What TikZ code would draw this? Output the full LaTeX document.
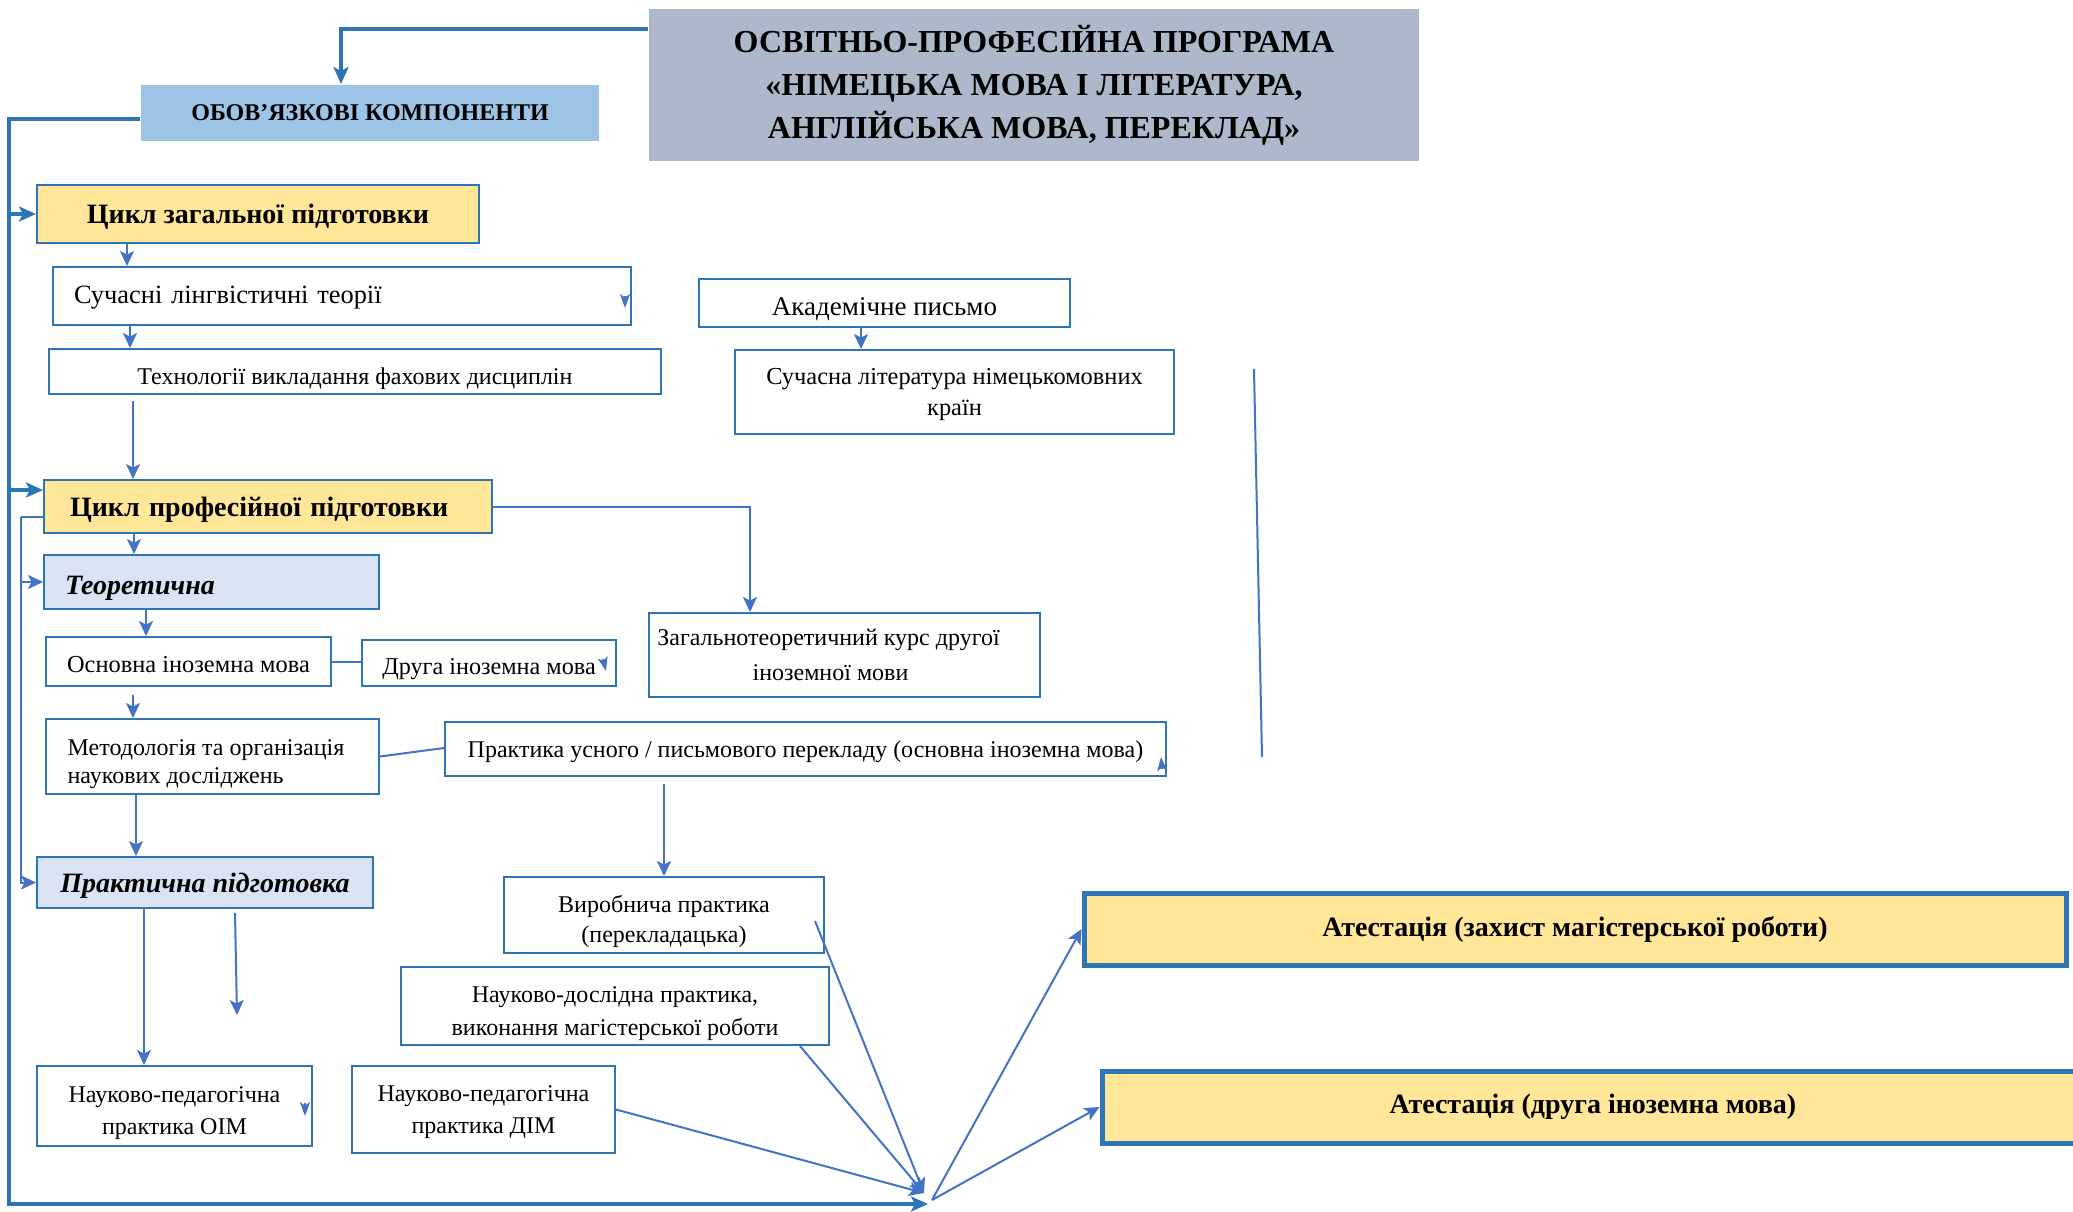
\documentclass[tikz,border=0pt]{standalone}
\usepackage{fontspec}
\setmainfont{Liberation Serif}
\usetikzlibrary{arrows.meta,calc}
\definecolor{thinc}{RGB}{68,114,196}
\definecolor{thickc}{RGB}{46,117,182}
\definecolor{yel}{RGB}{255,230,153}
\definecolor{lblue}{RGB}{218,227,243}
\definecolor{obov}{RGB}{157,195,230}
\definecolor{grayb}{RGB}{173,185,202}
\newcommand\fsz[2]{\fontsize{#1}{#2}\selectfont}
\newcommand\tstrut[1]{\rule{0pt}{#1}}
\begin{document}
\begin{tikzpicture}[x=0.5pt,y=-0.5pt,
  box/.style={draw=thickc, line width=1pt, fill=white, inner sep=0pt, align=center, text=black, text depth=0pt},
  arr/.style={draw=thinc, line width=1pt, -{Stealth[length=7.5pt,width=7pt,inset=1.8pt]}},
  sarr/.style={draw=thinc, line width=1pt, -{Stealth[length=7pt,width=5pt,inset=1.8pt]}},
  tarr/.style={draw=thickc, line width=2.3pt, -{Stealth[length=8.5pt,width=7.5pt,inset=2pt]}},
  thinline/.style={draw=thinc, line width=1pt},
  thickline/.style={draw=thickc, line width=2.3pt}
]
\fill[white] (0,0) rectangle (2073,1211);
\useasboundingbox (0,0) rectangle (2073,1211);

% nodes
\node[box, text depth=, fill=grayb, draw=none, minimum width=385pt, minimum height=76pt, font=\bfseries\fsz{16}{21.5}] (title) at (1034,85) {ОСВІТНЬО-ПРОФЕСІЙНА ПРОГРАМА\\«НІМЕЦЬКА МОВА І ЛІТЕРАТУРА,\\АНГЛІЙСЬКА МОВА, ПЕРЕКЛАД»};
\node[box, fill=obov, draw=none, minimum width=229pt, minimum height=28pt, font=\bfseries\fsz{12}{14}] (obov) at (370,113) {ОБОВ’ЯЗКОВІ КОМПОНЕНТИ};
\node[box, fill=yel, minimum width=221pt, minimum height=29pt, font=\bfseries\fsz{14}{17}] (cykl1) at (258,214) {Цикл загальної підготовки};
\node[box, text depth=1pt, minimum height=29pt, text width=268pt, inner xsep=10.5pt, align=left, font=\fsz{13.2}{16}] (such) at (342,296) {Сучасні лінгвістичні теорії};
\node[box, minimum width=306pt, minimum height=22.5pt, font=\fsz{12}{15}] (tech) at (355,371.5) {\tstrut{12.5pt}Технології викладання фахових дисциплін};
\node[box, minimum width=185.5pt, minimum height=24pt, font=\fsz{13.5}{16}] (akad) at (884.5,303) {\tstrut{12.5pt}Академічне письмо};
\node[box, minimum width=219.5pt, minimum height=42pt, font=\fsz{12.2}{15.5}] (lit) at (954.5,392) {Сучасна література німецькомовних\\країн};
\node[box, text depth=-1pt, fill=yel, minimum height=26.5pt, text width=198pt, inner xsep=13pt, align=left, font=\bfseries\fsz{14}{17}] (cykl2) at (268,506.5) {Цикл професійної підготовки};
\node[box, fill=lblue, minimum height=27pt, text width=146.5pt, inner xsep=10.5pt, align=left, font=\bfseries\itshape\fsz{14}{17}] (teor) at (211.5,582) {\tstrut{12.5pt}Теоретична};
\node[box, minimum width=142.5pt, minimum height=24.5pt, font=\fsz{12.2}{15}] (osn) at (188.5,661.5) {\tstrut{10.5pt}Основна іноземна мова};
\node[box, minimum width=127pt, minimum height=23pt, font=\fsz{12.1}{15}] (druha) at (489,663) {\tstrut{11pt}Друга іноземна мова};
\node[box, minimum width=195.5pt, minimum height=42pt, font=\fsz{12}{17.5}] (zahal) at (844.5,655) {Загальнотеоретичний курс другої\hspace*{16pt}\\іноземної мови\hspace*{14pt}};
\node[box, minimum width=166.5pt, minimum height=37.5pt, align=left, font=\fsz{12}{14}] (metod) at (212.5,756.5) {\tstrut{13pt}Методологія та організація\hspace*{6.5pt}\\наукових досліджень};
\node[box, minimum width=360.5pt, minimum height=27pt, font=\fsz{12}{15}] (pper) at (805.5,749) {Практика усного / письмового перекладу (основна іноземна мова)};
\node[box, fill=lblue, minimum width=168pt, minimum height=25.5pt, font=\bfseries\itshape\fsz{14}{17}] (prakt) at (205,882.5) {Практична підготовка};
\node[box, minimum width=160pt, minimum height=38pt, font=\fsz{12}{15}] (vyrob) at (664,915) {\tstrut{12.5pt}Виробнича практика\\(перекладацька)};
\node[box, minimum width=214pt, minimum height=39pt, font=\fsz{12}{16.5}] (ndosl) at (615,1006) {\tstrut{12.5pt}Науково-дослідна практика,\\виконання магістерської роботи};
\node[box, minimum width=137.5pt, minimum height=40pt, font=\fsz{12}{16}] (oim) at (174.5,1106) {\tstrut{12.5pt}Науково-педагогічна\\практика ОІМ};
\node[box, minimum width=131.5pt, minimum height=43.5pt, font=\fsz{12}{16}] (dim) at (483.5,1109.5) {Науково-педагогічна\\практика ДІМ};
\node[box, text depth=, fill=yel, line width=2.5pt, minimum width=491pt, minimum height=36pt, font=\bfseries\fsz{14}{17}] (att1) at (1575,929) {Атестація (захист магістерської роботи)};
\node[box, text depth=, fill=yel, line width=2.5pt, minimum width=491pt, minimum height=36pt, font=\bfseries\fsz{14}{17}] (att2) at (1593,1107) {Атестація (друга іноземна мова)};

% helper coordinates
\coordinate (k1) at (341,29);
\coordinate (k2) at (9,119);
\coordinate (k3) at (9,490);
\coordinate (hub) at (924,1193);
\coordinate (hubout) at (932,1200);
\coordinate (hubb) at (928,1204);
\coordinate (f1) at (235,913);
\coordinate (f2) at (237,1015);
\coordinate (s1) at (1254,369);
\coordinate (s2) at (1262,757);

% thick connectors
\draw[tarr] (title.west |- k1) -| (obov.north -| k1);
\draw[tarr] (obov.west |- k2) -- (k2) -- (k2 |- hubb) -- (hubb);
\draw[tarr] (k2 |- cykl1.west) -- (cykl1.west);
\draw[tarr] (k3) -- (cykl2.west |- k3);

% thin connectors
\draw[arr] ($(cykl1.south west)+(91,0)$) coordinate (a1) -- (a1 |- such.north);
\draw[arr] ($(such.south west)+(78,0)$) coordinate (a2) -- (a2 |- tech.north);
\draw[arr] ($(tech.south west)+(85,6)$) coordinate (a3) -- (a3 |- cykl2.north);
\draw[arr] ($(akad.south west)+(163,0)$) coordinate (a4) -- (a4 |- lit.north);
\draw[thinline] ($(cykl2.north west)+(0,38)$) coordinate (a5) -- ++(-22,0) coordinate (a6);
\draw[arr] (a6) |- (prakt.west);
\draw[arr] (a6 |- teor.west) -- (teor.west);
\draw[arr] ($(cykl2.north east)+(0,28)$) -| ($(zahal.north west)+(102,0)$);
\draw[arr] ($(cykl2.south west)+(91,0)$) coordinate (a8) -- (a8 |- teor.north);
\draw[arr] ($(teor.south west)+(103,0)$) coordinate (a9) -- (a9 |- osn.north);
\draw[thinline] (osn.east) -- (osn.east -| druha.west);
\draw[arr] ($(osn.south west)+(88,8)$) coordinate (a10) -- (a10 |- metod.north);
\draw[thinline] (metod.east) -- ($(pper.west)+(0,-1)$);
\draw[arr] ($(pper.south west)+(220,7)$) coordinate (a11) -- (a11 |- vyrob.north);
\draw[arr] ($(metod.south west)+(91,0)$) coordinate (a12) -- (a12 |- prakt.north);
\draw[arr] ($(prakt.south west)+(108,0)$) coordinate (a13) -- (a13 |- oim.north);
\draw[arr] (f1) -- (f2);
\draw[arr] ($(vyrob.east)+(-10,6)$) -- (hub);
\draw[arr] ($(ndosl.south east)+(-30,0)$) -- (hub);
\draw[arr] (dim.east) -- (hub);
\draw[arr] (hubout) -- (att1.west);
\draw[arr] (hubout) -- (att2.west);
\draw[thinline] (s1) -- (s2);

% stray arrowheads
\draw[sarr] (625,296) -- (625,308);
\draw[sarr] (603,659) -- (606,671);
\draw[sarr] (1162,769) -- (1161,757);
\draw[sarr] (305,1103) -- (305,1116);
\end{tikzpicture}
\end{document}
